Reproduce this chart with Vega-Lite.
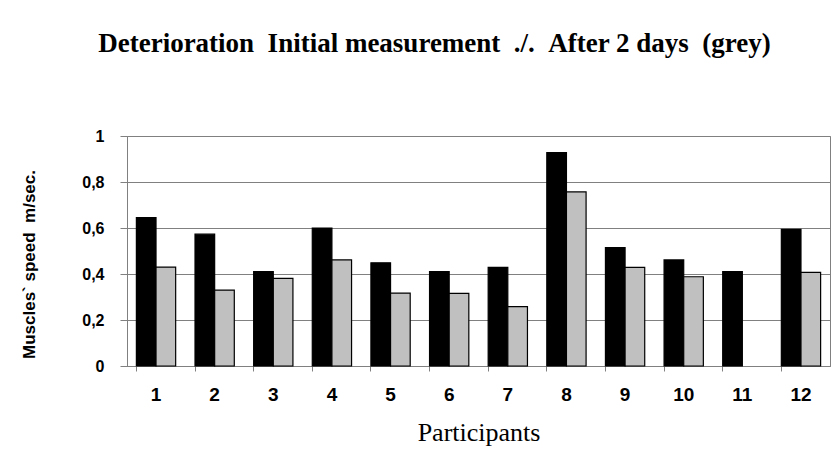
{
  "$schema": "https://vega.github.io/schema/vega-lite/v6.json",
  "autosize": {"type": "none"},
  "padding": {"left": 127, "top": 136, "right": 6, "bottom": 87},
  "width": 703,
  "height": 230,
  "background": "white",
  "title": {
    "text": "Deterioration \u00a0Initial measurement \u00a0./. \u00a0After 2 days \u00a0(grey)",
    "font": "Liberation Serif",
    "fontSize": 27,
    "fontWeight": "bold",
    "color": "#000000",
    "anchor": "middle",
    "frame": "group",
    "dx": -44,
    "offset": 70
  },
  "data": {
    "values": [
      {"participant": "1", "series": "Initial", "value": 0.645},
      {"participant": "1", "series": "After 2 days", "value": 0.43},
      {"participant": "2", "series": "Initial", "value": 0.573},
      {"participant": "2", "series": "After 2 days", "value": 0.33},
      {"participant": "3", "series": "Initial", "value": 0.41},
      {"participant": "3", "series": "After 2 days", "value": 0.381},
      {"participant": "4", "series": "Initial", "value": 0.6},
      {"participant": "4", "series": "After 2 days", "value": 0.461},
      {"participant": "5", "series": "Initial", "value": 0.449},
      {"participant": "5", "series": "After 2 days", "value": 0.317},
      {"participant": "6", "series": "Initial", "value": 0.41},
      {"participant": "6", "series": "After 2 days", "value": 0.316},
      {"participant": "7", "series": "Initial", "value": 0.429},
      {"participant": "7", "series": "After 2 days", "value": 0.258},
      {"participant": "8", "series": "Initial", "value": 0.928},
      {"participant": "8", "series": "After 2 days", "value": 0.757},
      {"participant": "9", "series": "Initial", "value": 0.515},
      {"participant": "9", "series": "After 2 days", "value": 0.429},
      {"participant": "10", "series": "Initial", "value": 0.461},
      {"participant": "10", "series": "After 2 days", "value": 0.388},
      {"participant": "11", "series": "Initial", "value": 0.41},
      {"participant": "12", "series": "Initial", "value": 0.594},
      {"participant": "12", "series": "After 2 days", "value": 0.407}
    ]
  },
  "mark": {"type": "bar", "stroke": "#000000", "strokeWidth": 1.2},
  "encoding": {
    "x": {
      "field": "participant",
      "type": "nominal",
      "sort": ["1","2","3","4","5","6","7","8","9","10","11","12"],
      "scale": {"paddingInner": 0.33, "paddingOuter": 0.16},
      "axis": {
        "title": "Participants",
        "titleFont": "Liberation Serif",
        "titleFontSize": 26,
        "titleFontWeight": "normal",
        "titleColor": "#000000",
        "titlePadding": 15,
        "labelFont": "Liberation Sans",
        "labelFontSize": 19,
        "labelFontWeight": "bold",
        "labelColor": "#000000",
        "labelAngle": 0,
        "labelPadding": 14,
        "bandPosition": 0,
        "tickSize": 5,
        "tickColor": "#808080",
        "domainColor": "#808080",
        "grid": false
      }
    },
    "xOffset": {
      "field": "series",
      "type": "nominal",
      "scale": {"domain": ["Initial", "After 2 days"], "paddingInner": -0.05}
    },
    "y": {
      "field": "value",
      "type": "quantitative",
      "scale": {"domain": [0, 1], "nice": false},
      "axis": {
        "title": "Muscles` speed \u00a0m/sec.",
        "titleFont": "Liberation Sans",
        "titleFontSize": 17,
        "titleFontWeight": "bold",
        "titleColor": "#000000",
        "titleX": -98,
        "titleY": 128,
        "titleAlign": "center",
        "titleBaseline": "middle",
        "titleAngle": -90,
        "values": [0, 0.2, 0.4, 0.6, 0.8, 1],
        "labelExpr": "datum.value == 0 || datum.value == 1 ? format(datum.value, 'd') : replace(format(datum.value, '.1f'), '.', ',')",
        "labelFont": "Liberation Sans",
        "labelFontSize": 16,
        "labelFontWeight": "bold",
        "labelColor": "#000000",
        "labelPadding": 16,
        "tickSize": 7,
        "tickColor": "#808080",
        "domainColor": "#808080",
        "gridColor": "#808080",
        "gridOpacity": 1,
        "gridWidth": 1
      }
    },
    "fill": {
      "field": "series",
      "type": "nominal",
      "scale": {"domain": ["Initial", "After 2 days"], "range": ["#000000", "#c0c0c0"]},
      "legend": null
    }
  },
  "config": {
    "view": {"stroke": "#808080", "strokeWidth": 1}
  }
}
